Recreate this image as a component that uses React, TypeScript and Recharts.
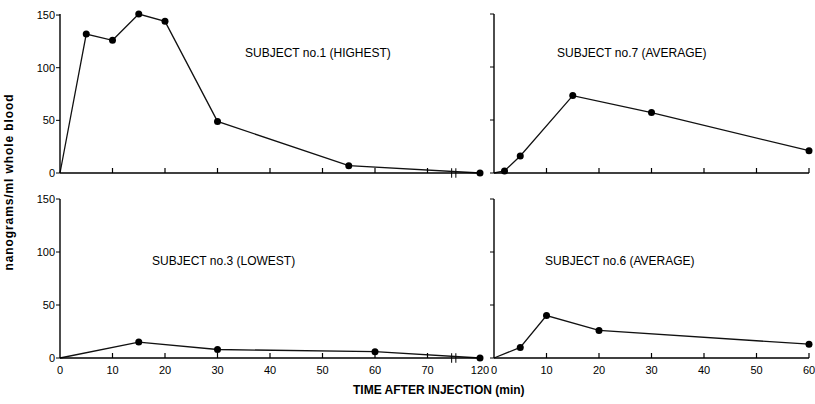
import { LineChart, Line, XAxis, YAxis, ReferenceLine } from "recharts";

// minutes after injection; 120 sits past the axis break
const timesS1 = [0, 5, 10, 15, 20, 30, 55, 120];
const valuesS1 = [0, 132, 126, 151, 144, 49, 7, 0];

const timesS7 = [0, 2, 5, 15, 30, 60];
const valuesS7 = [0, 2, 16, 73, 57, 21];

const timesS3 = [0, 15, 30, 60, 120];
const valuesS3 = [0, 15, 8, 6, 0];

const timesS6 = [0, 5, 10, 20, 60];
const valuesS6 = [0, 10, 40, 26, 13];

const leftTicks = [0, 10, 20, 30, 40, 50, 60, 70, 80];
const rightTicks = [0, 10, 20, 30, 40, 50, 60];
const yTicks = [0, 50, 100, 150];

const BREAK_AT = 75;
const AFTER_BREAK_POS = 80; // where 120 min is drawn

const FONT = "'Liberation Sans', Arial, sans-serif";

const toPos = (t: number) => (t > BREAK_AT ? AFTER_BREAK_POS : t);

const build = (times: number[], values: number[]) =>
    times.map((t, i) => ({ time: t, pos: toPos(t), value: values[i] }));

const leftLabel = (v: number) => (v === AFTER_BREAK_POS ? "120" : String(v));

const XTick = (props: any) => {
    const { x, y, payload, showLabel, last } = props;
    const v = payload.value;
    const mark = v !== 0 && v !== AFTER_BREAK_POS && v <= last;
    return (
        <g>
            {mark && <line x1={x} y1={y} x2={x} y2={y - 5} stroke="#000" strokeWidth={1.2} />}
            {showLabel && (
                <text x={x} y={y + 16} textAnchor="middle" fontSize={11} fill="#000" fontFamily={FONT}>
                    {leftLabel(v)}
                </text>
            )}
        </g>
    );
};

const renderDot = (p: any) => {
    if (p.payload.time === 0) return <g key={`d-${p.index}`} />;
    return <circle key={`d-${p.index}`} cx={p.cx} cy={p.cy} r={3.5} fill="#000" />;
};

interface PanelProps {
    data: any[];
    left: boolean;
    bottom: boolean;
}

function Panel({ data, left, bottom }: PanelProps) {
    const width = left ? 495 : 381;
    const height = bottom ? 200 : 190;
    return (
        <LineChart
            width={width}
            height={height}
            data={data}
            margin={{ top: 14, right: left ? 15 : 6, bottom: 0, left: 0 }}
        >
            <XAxis
                type="number"
                dataKey="pos"
                domain={left ? [0, 80] : [0, 60]}
                ticks={left ? leftTicks : rightTicks}
                interval={0}
                height={bottom ? 27 : 17}
                axisLine={{ stroke: "#000", strokeWidth: 1.4 }}
                tickLine={false}
                tickSize={0}
                tickMargin={0}
                tick={<XTick showLabel={bottom} last={left ? 70 : 60} />}
            />
            <YAxis
                type="number"
                domain={[0, 150]}
                ticks={yTicks}
                interval={0}
                width={60}
                axisLine={{ stroke: "#000", strokeWidth: 1.4 }}
                tickLine={{ stroke: "#000" }}
                tickSize={4}
                tickMargin={1}
                tick={{ fontSize: 11, fill: "#000", fontFamily: FONT }}
                tickFormatter={(v: number) => (left ? String(v) : "")}
            />
            {left && (
                <ReferenceLine
                    segment={[{ x: 74.6, y: -4.5 }, { x: 74.6, y: 4.5 }]}
                    stroke="#000"
                    ifOverflow="visible"
                />
            )}
            {left && (
                <ReferenceLine
                    segment={[{ x: 75.4, y: -4.5 }, { x: 75.4, y: 4.5 }]}
                    stroke="#000"
                    ifOverflow="visible"
                />
            )}
            <Line
                type="linear"
                dataKey="value"
                stroke="#111"
                strokeWidth={1.3}
                dot={renderDot}
                activeDot={false}
                isAnimationActive={false}
            />
        </LineChart>
    );
}

const labelStyle = (left: number, top: number): any => ({
    position: "absolute",
    left,
    top,
    fontSize: 12,
    lineHeight: "14px",
    whiteSpace: "nowrap",
    color: "#000",
});

export default function App() {
    return (
        <div style={{
            position: "absolute",
            left: 0,
            top: 0,
            width: 815,
            height: 404,
            background: "#fff",
            fontFamily: FONT,
            overflow: "hidden",
        }}>
            <div style={{ position: "absolute", left: 0, top: 0 }}>
                <Panel data={build(timesS1, valuesS1)} left={true} bottom={false} />
            </div>
            <div style={{ position: "absolute", left: 434, top: 0 }}>
                <Panel data={build(timesS7, valuesS7)} left={false} bottom={false} />
            </div>
            <div style={{ position: "absolute", left: 0, top: 185 }}>
                <Panel data={build(timesS3, valuesS3)} left={true} bottom={true} />
            </div>
            <div style={{ position: "absolute", left: 434, top: 185 }}>
                <Panel data={build(timesS6, valuesS6)} left={false} bottom={true} />
            </div>

            <div style={labelStyle(245, 46)}>SUBJECT no.1 (HIGHEST)</div>
            <div style={labelStyle(557, 46)}>SUBJECT no.7 (AVERAGE)</div>
            <div style={labelStyle(152, 254)}>SUBJECT no.3 (LOWEST)</div>
            <div style={labelStyle(545, 254)}>SUBJECT no.6 (AVERAGE)</div>

            <div style={{
                position: "absolute",
                left: 9 - 100,
                top: 182 - 8,
                width: 200,
                height: 16,
                lineHeight: "16px",
                textAlign: "center",
                fontSize: 12,
                fontWeight: 700,
                letterSpacing: 0.9,
                transform: "rotate(-90deg)",
                whiteSpace: "nowrap",
            }}>
                nanograms/ml whole blood
            </div>

            <div style={{
                position: "absolute",
                left: 353,
                top: 383,
                fontSize: 12,
                fontWeight: 700,
                lineHeight: "14px",
                whiteSpace: "nowrap",
            }}>
                TIME AFTER INJECTION (min)
            </div>
        </div>
    );
}
